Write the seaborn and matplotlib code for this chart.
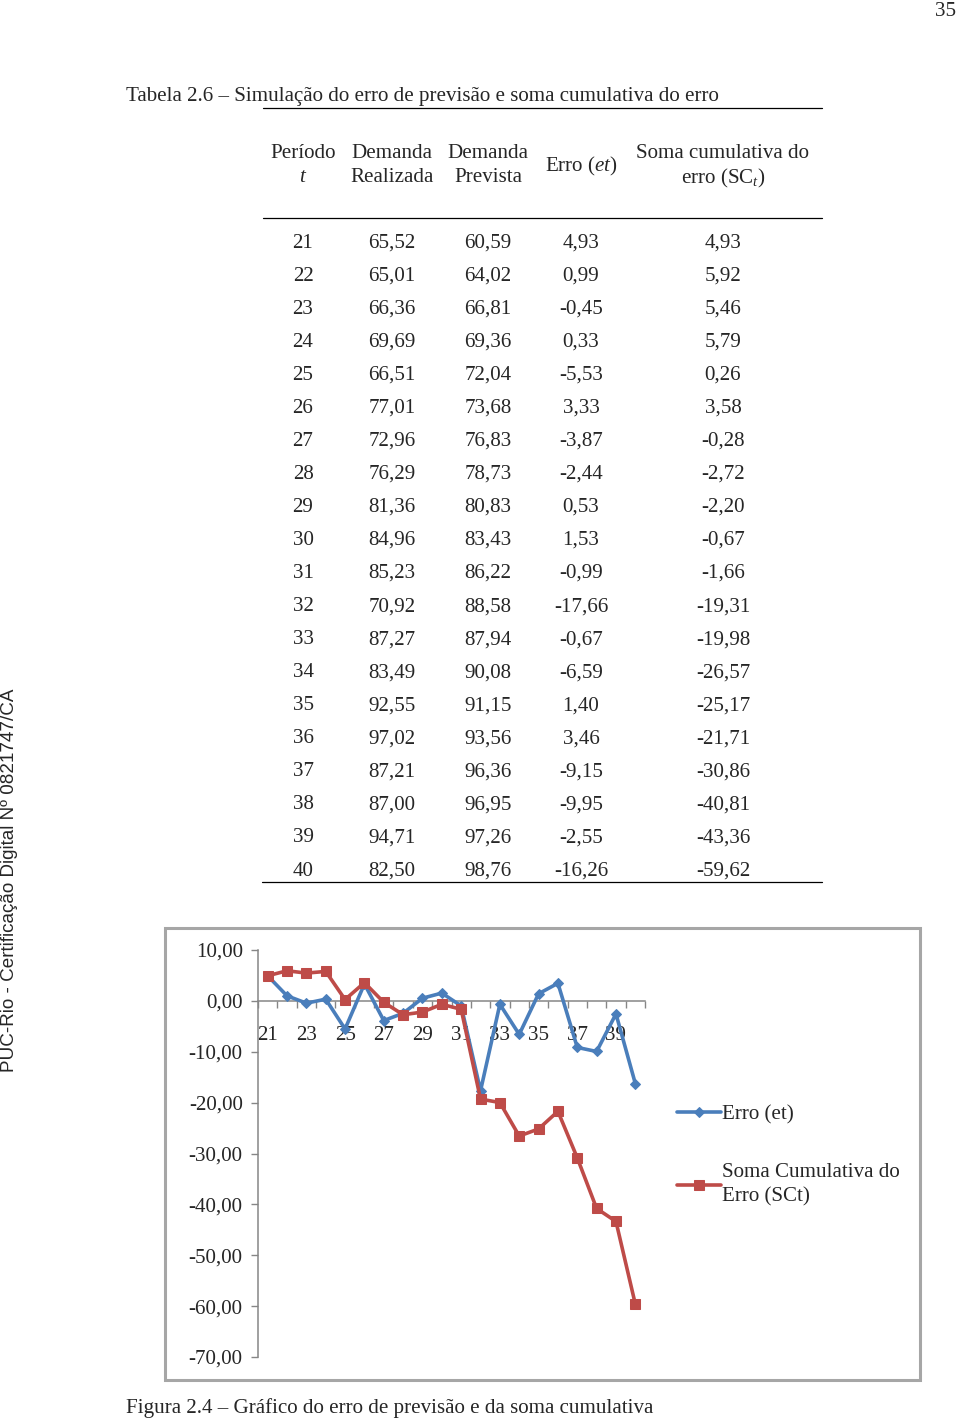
import matplotlib
matplotlib.use("Agg")
import matplotlib.pyplot as plt
from matplotlib.lines import Line2D
from matplotlib.patches import Rectangle
import seaborn as sns
import pandas as pd

# ---------------- data ----------------
periodos = [21, 22, 23, 24, 25, 26, 27, 28, 29, 30, 31, 32, 33, 34, 35, 36, 37, 38, 39, 40]
demanda_realizada = [65.52, 65.01, 66.36, 69.69, 66.51, 77.01, 72.96, 76.29, 81.36, 84.96,
                     85.23, 70.92, 87.27, 83.49, 92.55, 97.02, 87.21, 87.00, 94.71, 82.50]
demanda_prevista = [60.59, 64.02, 66.81, 69.36, 72.04, 73.68, 76.83, 78.73, 80.83, 83.43,
                    86.22, 88.58, 87.94, 90.08, 91.15, 93.56, 96.36, 96.95, 97.26, 98.76]
erro = [4.93, 0.99, -0.45, 0.33, -5.53, 3.33, -3.87, -2.44, 0.53, 1.53,
        -0.99, -17.66, -0.67, -6.59, 1.40, 3.46, -9.15, -9.95, -2.55, -16.26]
soma_cumulativa = [4.93, 5.92, 5.46, 5.79, 0.26, 3.58, -0.28, -2.72, -2.20, -0.67,
                   -1.66, -19.31, -19.98, -26.57, -25.17, -21.71, -30.86, -40.81, -43.36, -59.62]
y_ticks = [10, 0, -10, -20, -30, -40, -50, -60, -70]
x_tick_periods = [21, 23, 25, 27, 29, 31, 33, 35, 37, 39]
serie_erro = "Erro (et)"
serie_soma = "Soma Cumulativa do\nErro (SCt)"

titulo_tabela = "Tabela 2.6 – Simulação do erro de previsão e soma cumulativa do erro"
titulo_figura = "Figura 2.4 – Gráfico do erro de previsão e da soma cumulativa"
marca_lateral = "PUC-Rio - Certificação Digital Nº 0821747/CA"
numero_pagina = "35"

# ---------------- style ----------------
sns.set_style("white")
plt.rcParams["font.family"] = ["Liberation Serif", "DejaVu Serif"]
plt.rcParams["mathtext.fontset"] = "custom"
plt.rcParams["mathtext.rm"] = "Liberation Serif"
plt.rcParams["mathtext.it"] = "Liberation Serif:italic"

W, H = 960, 1420
fig = plt.figure(figsize=(W / 100, H / 100), dpi=100)
FS = 15.1

def fx(px):
    return px / W

def fy(py):
    return 1 - py / H

def fmt(v):
    return f"{v:.2f}".replace(".", ",")

# page number
fig.text(fx(946), fy(12), numero_pagina, fontsize=FS, ha="center", va="center")

# side watermark
fig.text(fx(10), fy(880), marca_lateral, fontsize=13.6, rotation=90,
         ha="center", va="center", family=["Liberation Sans", "DejaVu Sans"])

# table caption
fig.text(fx(126), fy(97), titulo_tabela, fontsize=FS, ha="left", va="center")

# table rules
for y, x0, x1 in [(108, 263, 822), (218, 263, 822), (882, 262, 822)]:
    fig.add_artist(Line2D([fx(x0), fx(x1)], [fy(y), fy(y)], color="black", lw=0.9,
                          transform=fig.transFigure))

# headers
col_x = [303, 392, 488, 581, 723]
fig.text(fx(col_x[0]), fy(154), "Período", fontsize=FS, ha="center", va="center")
fig.text(fx(col_x[0]), fy(178), "$\\mathit{t}$", fontsize=FS, ha="center", va="center")
fig.text(fx(col_x[1]), fy(154), "Demanda", fontsize=FS, ha="center", va="center")
fig.text(fx(col_x[1]), fy(178), "Realizada", fontsize=FS, ha="center", va="center")
fig.text(fx(col_x[2]), fy(154), "Demanda", fontsize=FS, ha="center", va="center")
fig.text(fx(col_x[2]), fy(178), "Prevista", fontsize=FS, ha="center", va="center")
fig.text(fx(col_x[3]), fy(166), "Erro ($\\mathit{et}$)", fontsize=FS, ha="center", va="center")
fig.text(fx(col_x[4]), fy(154), "Soma cumulativa do", fontsize=FS, ha="center", va="center")
fig.text(fx(col_x[4]), fy(178), "erro (SC$_{\\mathit{t}}$)", fontsize=FS, ha="center", va="center")

# rows
row0, row_step = 243, (871 - 243) / 19
for i, p in enumerate(periodos):
    y = fy(row0 + i * row_step)
    vals = [str(p), fmt(demanda_realizada[i]), fmt(demanda_prevista[i]),
            fmt(erro[i]), fmt(soma_cumulativa[i])]
    for cx, s in zip(col_x, vals):
        fig.text(fx(cx), y, s, fontsize=FS, ha="center", va="center")

# chart border
fig.add_artist(Rectangle((fx(165), fy(1380)), fx(920) - fx(165), fy(928) - fy(1380),
                         transform=fig.transFigure, fill=False, edgecolor="#A6A6A6", lw=2.2))

# chart axes
ax = fig.add_axes([fx(258), fy(1357), fx(645) - fx(258), fy(950) - fy(1357)])
df = pd.DataFrame({
    "t": periodos * 2,
    "valor": erro + soma_cumulativa,
    "serie": [serie_erro] * len(periodos) + [serie_soma] * len(periodos),
})
blue, red = "#4A7EBB", "#BE4B48"
sns.lineplot(data=df[df.serie == serie_erro], x="t", y="valor", ax=ax, color=blue,
             marker="D", markersize=5.5, linewidth=2.6, markeredgecolor=blue,
             label=serie_erro, zorder=4)
sns.lineplot(data=df[df.serie == serie_soma], x="t", y="valor", ax=ax, color=red,
             marker="s", markersize=7, linewidth=2.6, markeredgecolor=red,
             label=serie_soma, zorder=4)

ax.set_xlim(periodos[0] - 0.5, periodos[-1] + 0.5)
ax.set_ylim(-70, 10)
ax.set_xlabel("")
ax.set_ylabel("")
ax.spines["top"].set_visible(False)
ax.spines["right"].set_visible(False)
ax.spines["bottom"].set_position(("data", 0))
for s in ("left", "bottom"):
    ax.spines[s].set_color("#868686")
    ax.spines[s].set_linewidth(1.1)
ax.tick_params(axis="y", which="major", length=5, width=1.0, color="#868686",
               direction="out", pad=6, left=True, labelsize=FS)
ax.tick_params(axis="x", which="major", length=0, pad=18, bottom=True, labelsize=FS)
ax.tick_params(axis="x", which="minor", length=5, width=1.0, color="#868686",
               direction="out", bottom=True)
ax.set_yticks(y_ticks)
ax.set_yticklabels([fmt(v) for v in y_ticks])
ax.set_xticks(x_tick_periods)
ax.set_xticklabels([str(v) for v in x_tick_periods])
ax.set_xticks([p - 0.5 for p in periodos] + [periodos[-1] + 0.5], minor=True)
ax.patch.set_alpha(0)

leg = ax.legend(loc="upper left", bbox_to_anchor=(fx(658), fy(1086)),
                bbox_transform=fig.transFigure, frameon=False, fontsize=FS,
                handlelength=2.1, handletextpad=0.05, labelspacing=1.85)
for t in leg.get_texts():
    t.set_linespacing(1.35)

fig.text(fx(126), fy(1408), titulo_figura, fontsize=FS, ha="left", va="center")

fig.savefig("out.png", dpi=100)
